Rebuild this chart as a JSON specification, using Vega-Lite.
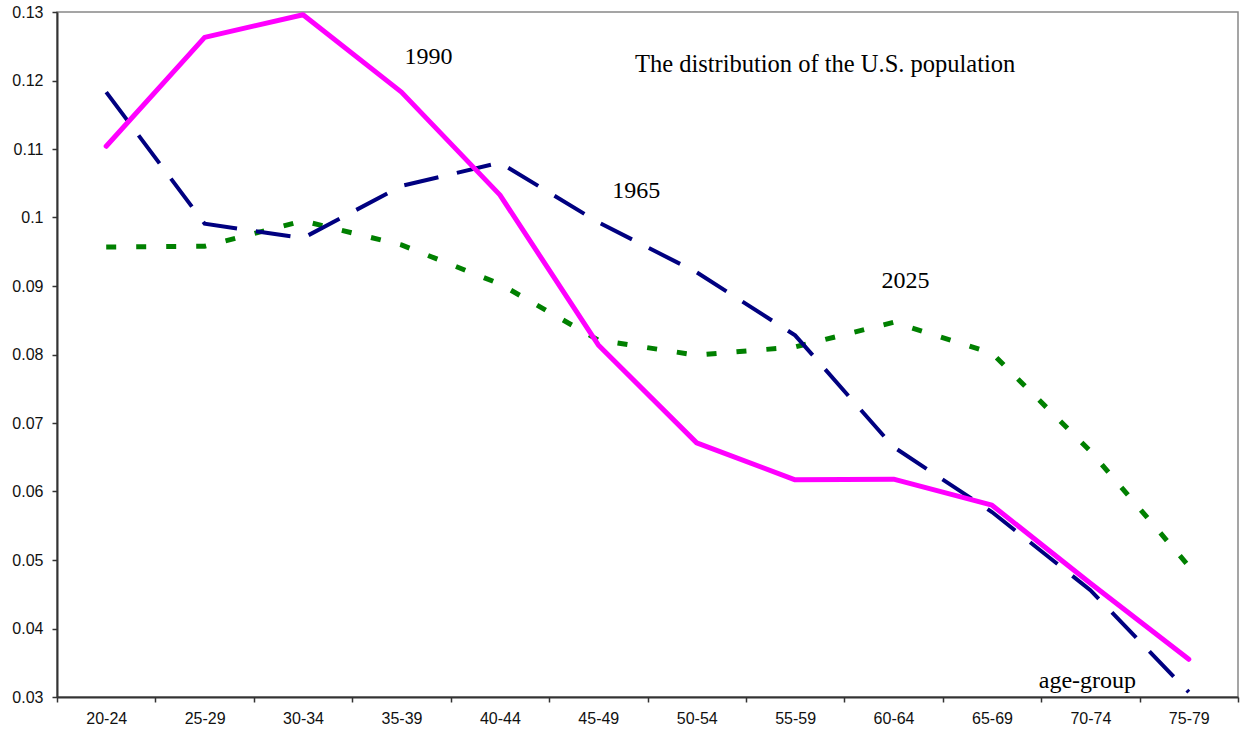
{
  "$schema": "https://vega.github.io/schema/vega-lite/v6.json",
  "width": 1181,
  "height": 685,
  "autosize": {"type": "none"},
  "padding": {"left": 57, "top": 12, "right": 3, "bottom": 41},
  "background": "white",
  "config": {
    "view": {"stroke": "#888888", "strokeWidth": 1.5},
    "axis": {
      "grid": false,
      "labelFont": "Liberation Sans",
      "labelFontSize": 16,
      "labelColor": "#111111",
      "domainColor": "#333333",
      "domainWidth": 2,
      "tickColor": "#333333",
      "tickWidth": 1.5,
      "tickSize": 5,
      "title": null
    },
    "text": {"font": "Liberation Serif", "fontSize": 24, "color": "black", "baseline": "middle", "align": "center"}
  },
  "datasets": {
    "pop": [
      {"age": "20-24", "year": "1990", "share": 0.1104},
      {"age": "25-29", "year": "1990", "share": 0.1263},
      {"age": "30-34", "year": "1990", "share": 0.1296},
      {"age": "35-39", "year": "1990", "share": 0.1183},
      {"age": "40-44", "year": "1990", "share": 0.1033},
      {"age": "45-49", "year": "1990", "share": 0.0814},
      {"age": "50-54", "year": "1990", "share": 0.0671},
      {"age": "55-59", "year": "1990", "share": 0.0617},
      {"age": "60-64", "year": "1990", "share": 0.0618},
      {"age": "65-69", "year": "1990", "share": 0.0580},
      {"age": "70-74", "year": "1990", "share": 0.0466},
      {"age": "75-79", "year": "1990", "share": 0.0355},
      {"age": "20-24", "year": "1965", "share": 0.1183},
      {"age": "25-29", "year": "1965", "share": 0.0991},
      {"age": "30-34", "year": "1965", "share": 0.0970},
      {"age": "35-39", "year": "1965", "share": 0.1046},
      {"age": "40-44", "year": "1965", "share": 0.1080},
      {"age": "45-49", "year": "1965", "share": 0.0993},
      {"age": "50-54", "year": "1965", "share": 0.0920},
      {"age": "55-59", "year": "1965", "share": 0.0828},
      {"age": "60-64", "year": "1965", "share": 0.0665},
      {"age": "65-69", "year": "1965", "share": 0.0570},
      {"age": "70-74", "year": "1965", "share": 0.0456},
      {"age": "75-79", "year": "1965", "share": 0.0307},
      {"age": "20-24", "year": "2025", "share": 0.0957},
      {"age": "25-29", "year": "2025", "share": 0.0958},
      {"age": "30-34", "year": "2025", "share": 0.0995},
      {"age": "35-39", "year": "2025", "share": 0.0960},
      {"age": "40-44", "year": "2025", "share": 0.0903},
      {"age": "45-49", "year": "2025", "share": 0.0821},
      {"age": "50-54", "year": "2025", "share": 0.0799},
      {"age": "55-59", "year": "2025", "share": 0.0811},
      {"age": "60-64", "year": "2025", "share": 0.0847},
      {"age": "65-69", "year": "2025", "share": 0.0802},
      {"age": "70-74", "year": "2025", "share": 0.0659},
      {"age": "75-79", "year": "2025", "share": 0.0491}
    ]
  },
  "encoding": {
    "x": {
      "field": "age",
      "type": "ordinal",
      "sort": null,
      "scale": {"type": "band", "paddingInner": 0, "paddingOuter": 0},
      "axis": {"labelAngle": 0, "tickBand": "extent", "labelPadding": 8}
    },
    "y": {
      "field": "share",
      "type": "quantitative",
      "scale": {"domain": [0.03, 0.13], "nice": false, "zero": false},
      "axis": {
        "values": [0.03, 0.04, 0.05, 0.06, 0.07, 0.08, 0.09, 0.1, 0.11, 0.12, 0.13],
        "format": "~g",
        "labelPadding": 9
      }
    }
  },
  "layer": [
    {
      "data": {"name": "pop"},
      "transform": [{"filter": "datum.year == '2025'"}],
      "mark": {"type": "line", "color": "#008000", "strokeWidth": 5, "strokeDash": [10, 20], "strokeCap": "butt"}
    },
    {
      "data": {"name": "pop"},
      "transform": [{"filter": "datum.year == '1965'"}],
      "mark": {"type": "line", "color": "#000080", "strokeWidth": 4, "strokeDash": [35, 19], "strokeCap": "butt"}
    },
    {
      "data": {"name": "pop"},
      "transform": [{"filter": "datum.year == '1990'"}],
      "mark": {"type": "line", "color": "#FF00FF", "strokeWidth": 5, "strokeCap": "round", "strokeJoin": "round"}
    },
    {
      "data": {"values": [{"age": "35-39", "share": 0.1234, "label": "1990"}]},
      "mark": {"type": "text", "dx": 27},
      "encoding": {"text": {"field": "label"}}
    },
    {
      "data": {"values": [{"age": "45-49", "share": 0.1039, "label": "1965"}]},
      "mark": {"type": "text", "dx": 38},
      "encoding": {"text": {"field": "label"}}
    },
    {
      "data": {"values": [{"age": "60-64", "share": 0.0907, "label": "2025"}]},
      "mark": {"type": "text", "dx": 12},
      "encoding": {"text": {"field": "label"}}
    },
    {
      "data": {"values": [{"age": "55-59", "share": 0.1223, "label": "The distribution of the U.S. population"}]},
      "mark": {"type": "text", "dx": 30, "fontSize": 24.5},
      "encoding": {"text": {"field": "label"}}
    },
    {
      "data": {"values": [{"age": "70-74", "share": 0.0323, "label": "age-group"}]},
      "mark": {"type": "text", "dx": -3},
      "encoding": {"text": {"field": "label"}}
    }
  ]
}
